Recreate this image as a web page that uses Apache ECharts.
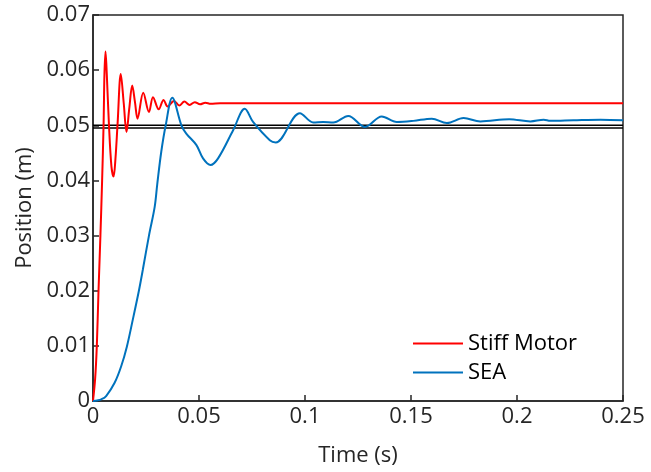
<!DOCTYPE html>
<html>
<head>
<meta charset="utf-8">
<script src="https://cdn.jsdelivr.net/npm/echarts@6/dist/echarts.min.js"></script>
<style>
  html, body { margin: 0; padding: 0; background: #fff; }
  #chart { width: 651px; height: 472px; }
</style>
</head>
<body>
<div id="chart"></div>
<script>
// Stiff motor response (time in s, position in m)
var stiffT = [0, 0.0010, 0.0018, 0.0026, 0.0035, 0.0043, 0.0050, 0.0054, 0.0059, 0.0065, 0.0075, 0.0087, 0.0097,
  0.0106, 0.0116, 0.0131, 0.0145, 0.0158, 0.0171, 0.0185, 0.0198, 0.0210, 0.0237, 0.0264, 0.0283, 0.0310,
  0.0333, 0.0352, 0.0382, 0.0407, 0.0431, 0.0456, 0.0480, 0.0505, 0.0530, 0.0555, 0.0600, 0.1000, 0.1500, 0.2000, 0.2500];
var stiffV = [0, 0.0040, 0.0100, 0.0200, 0.0300, 0.0400, 0.0503, 0.0593, 0.0634, 0.0593, 0.0503, 0.0425, 0.0407,
  0.0440, 0.0503, 0.0593, 0.0540, 0.0488, 0.0530, 0.0572, 0.0542, 0.0512, 0.0559, 0.0524, 0.0551, 0.0529,
  0.0546, 0.0534, 0.0544, 0.0536, 0.0543, 0.0537, 0.0542, 0.0538, 0.0541, 0.0539, 0.0540, 0.0540, 0.0540, 0.0540, 0.0540];

// SEA response
var seaT = [0, 0.0020, 0.0039, 0.0062, 0.0102, 0.0133, 0.0160, 0.0188, 0.0216, 0.0235, 0.0264, 0.0291, 0.0303,
  0.0322, 0.0343, 0.0374, 0.0417, 0.0440, 0.0488, 0.0519, 0.0554, 0.0590, 0.0661, 0.0716, 0.0755, 0.0834,
  0.0862, 0.0976, 0.1039, 0.1086, 0.1133, 0.1204, 0.1283, 0.1362, 0.1433, 0.1511, 0.1598, 0.1669, 0.1748,
  0.1827, 0.1963, 0.2063, 0.2126, 0.2157, 0.2266, 0.2394, 0.2500];
var seaV = [0, 0.0001, 0.0003, 0.0009, 0.0033, 0.0063, 0.0099, 0.0148, 0.0199, 0.0238, 0.0300, 0.0352, 0.0393,
  0.0452, 0.0500, 0.0550, 0.0500, 0.0485, 0.0464, 0.0440, 0.0428, 0.0440, 0.0491, 0.0530, 0.0506, 0.0473,
  0.0469, 0.0522, 0.0505, 0.0506, 0.0505, 0.0517, 0.0497, 0.0516, 0.0506, 0.0508, 0.0512, 0.0504, 0.0513,
  0.0507, 0.0511, 0.0507, 0.0510, 0.0508, 0.0509, 0.0510, 0.0509];

// two black reference lines
var refLevels = [0.0500, 0.0495];
var xRange = [0, 0.25];

var legendNames = ['Stiff Motor', 'SEA'];

function pairs(t, v) {
  var out = [];
  for (var i = 0; i < t.length; i++) out.push([t[i], v[i]]);
  return out;
}

var font = '"Open Sans", sans-serif';
var ink = '#262626';
var lineIcon = 'path://M0,0 L50,0 L50,2 L0,2 Z';

var series = [];
refLevels.forEach(function (lv, i) {
  series.push({
    name: 'ref' + i,
    type: 'line',
    symbol: 'none',
    data: [[xRange[0], lv], [xRange[1], lv]],
    lineStyle: { color: '#000', width: 1.5 },
    z: 1
  });
});
series.push({
  name: legendNames[0],
  type: 'line',
  symbol: 'none',
  smooth: 0.35,
  data: pairs(stiffT, stiffV),
  itemStyle: { color: '#ff0000' },
  lineStyle: { color: '#ff0000', width: 2 },
  z: 3
});
series.push({
  name: legendNames[1],
  type: 'line',
  symbol: 'none',
  smooth: 0.35,
  data: pairs(seaT, seaV),
  itemStyle: { color: '#0072bd' },
  lineStyle: { color: '#0072bd', width: 2 },
  z: 4
});

var chart = echarts.init(document.getElementById('chart'), null, { renderer: 'canvas' });
chart.setOption({
  animation: false,
  backgroundColor: '#fff',
  grid: {
    left: 93, right: 28, top: 15, bottom: 70,
    show: true, borderColor: ink, borderWidth: 1.5, backgroundColor: 'transparent'
  },
  legend: {
    data: legendNames.map(function (n) { return { name: n, icon: lineIcon }; }),
    orient: 'vertical',
    left: 408,
    top: 327,
    itemWidth: 50,
    itemHeight: 2,
    itemGap: 6,
    textStyle: { fontFamily: font, fontSize: 22, color: '#000', lineHeight: 23 }
  },
  xAxis: {
    type: 'value',
    min: 0, max: 0.25, interval: 0.05,
    name: 'Time (s)',
    nameLocation: 'middle',
    nameGap: 44,
    nameTextStyle: { fontFamily: font, fontSize: 22, color: ink },
    axisLine: { lineStyle: { color: ink, width: 1.5 } },
    axisTick: { inside: true, length: 6, lineStyle: { color: ink, width: 1.5 } },
    axisLabel: { fontFamily: font, fontSize: 22, color: ink, margin: 5 },
    splitLine: { show: false }
  },
  yAxis: {
    type: 'value',
    min: 0, max: 0.07, interval: 0.01,
    name: 'Position (m)',
    nameLocation: 'middle',
    nameGap: 56,
    nameTextStyle: { fontFamily: font, fontSize: 22, color: ink },
    axisLine: { show: true, lineStyle: { color: ink, width: 1.5 } },
    axisTick: { show: true, inside: true, length: 6, lineStyle: { color: ink, width: 1.5 } },
    axisLabel: { fontFamily: font, fontSize: 22, color: ink, margin: 3 },
    splitLine: { show: false }
  },
  series: series
});
</script>
</body>
</html>
